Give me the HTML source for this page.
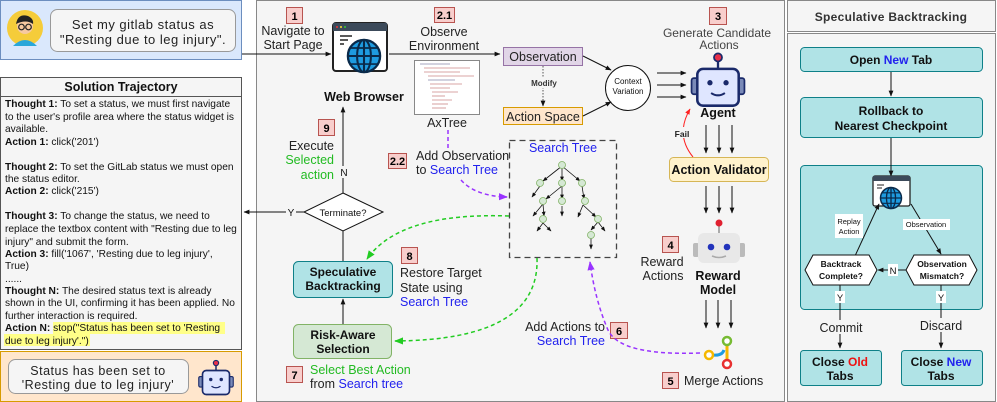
<!DOCTYPE html>
<html><head><meta charset="utf-8"><style>
body{margin:0;background:#fff}
svg{display:block;font-family:"Liberation Sans",sans-serif}
.t{font-size:10.2px;fill:#111}
.l{font-size:12.5px;fill:#222}
.b{font-weight:bold}
.bl{fill:#2222ee}
.gr{fill:#22bb22}
</style></head><body>
<svg width="997" height="402" viewBox="0 0 997 402" xmlns="http://www.w3.org/2000/svg">
<defs>
<marker id="a" viewBox="0 0 10 10" refX="9" refY="5" markerWidth="6" markerHeight="6" orient="auto"><path d="M0,1 L10,5 L0,9 z" fill="#111"/></marker>
<marker id="ap" viewBox="0 0 10 10" refX="9" refY="5" markerWidth="6" markerHeight="6" orient="auto"><path d="M0,1 L10,5 L0,9 z" fill="#9933ff"/></marker>
<marker id="ag" viewBox="0 0 10 10" refX="9" refY="5" markerWidth="6" markerHeight="6" orient="auto"><path d="M0,1 L10,5 L0,9 z" fill="#22cc22"/></marker>
<marker id="ar" viewBox="0 0 10 10" refX="9" refY="5" markerWidth="6" markerHeight="6" orient="auto"><path d="M0,1 L10,5 L0,9 z" fill="#ff2222"/></marker>
<g id="globe">
<circle cx="0" cy="0" r="14" fill="#1e9be0" stroke="#0a2a4a" stroke-width="2"/>
<ellipse cx="0" cy="0" rx="6" ry="14" fill="none" stroke="#0a2a4a" stroke-width="1.8"/>
<line x1="0" y1="-14" x2="0" y2="14" stroke="#0a2a4a" stroke-width="1.8"/>
<line x1="-14" y1="0" x2="14" y2="0" stroke="#0a2a4a" stroke-width="1.8"/>
<line x1="-12" y1="-7" x2="12" y2="-7" stroke="#0a2a4a" stroke-width="1.5"/>
<line x1="-12" y1="7" x2="12" y2="7" stroke="#0a2a4a" stroke-width="1.5"/>
</g>
<g id="robot">
<line x1="0" y1="-22" x2="0" y2="-14" stroke="#1a2a6a" stroke-width="2"/>
<circle cx="0" cy="-24" r="3.5" fill="#e8304a" stroke="#1a2a6a" stroke-width="1.5"/>
<rect x="-23" y="-6" width="6" height="14" rx="2" fill="#7a8ab8" stroke="#1a2a6a" stroke-width="1.5"/>
<rect x="17" y="-6" width="6" height="14" rx="2" fill="#7a8ab8" stroke="#1a2a6a" stroke-width="1.5"/>
<rect x="-18" y="-14" width="36" height="32" rx="5" fill="#dfe6ff" stroke="#1a2a6a" stroke-width="2.2"/>
<circle cx="-7" cy="-2" r="2.3" fill="#1a2a6a"/><circle cx="7" cy="-2" r="2.3" fill="#1a2a6a"/>
<path d="M-6,7 Q0,11 6,7" fill="none" stroke="#1a2a6a" stroke-width="1.8"/>
</g>
</defs>

<rect x="0.5" y="0.5" width="241" height="59" fill="#dae8fc" stroke="#6c8ebf"/>
<circle cx="25" cy="28" r="18" fill="#f5cc3a"/>
<path d="M13,46 Q25,34 37,46 Z" fill="#2aa7d9"/>
<circle cx="25" cy="26" r="8" fill="#f7c9a0"/>
<path d="M16,24 Q18,13 28,16 Q34,19 33,24 Q26,19 16,24 Z" fill="#222"/>
<circle cx="21.5" cy="27" r="2.8" fill="none" stroke="#222" stroke-width="1.2"/><circle cx="28.5" cy="27" r="2.8" fill="none" stroke="#222" stroke-width="1.2"/>
<rect x="50.5" y="9.5" width="185" height="42" rx="7" fill="#f5f5f5" stroke="#999"/>
<text x="143" y="29" text-anchor="middle" style="font-size:13px;letter-spacing:0.5px" fill="#222">Set my gitlab status as</text>
<text x="143" y="44" text-anchor="middle" style="font-size:13px;letter-spacing:0.5px" fill="#222">"Resting due to leg injury".</text>

<rect x="0.5" y="77.5" width="241" height="272" fill="#f5f5f5" stroke="#555"/>
<line x1="0" y1="96.5" x2="242" y2="96.5" stroke="#555"/>
<text x="121" y="91" text-anchor="middle" class="b" style="font-size:12.5px" fill="#111">Solution Trajectory</text>
<g class="t">
<text x="5" y="107"><tspan class="b">Thought 1:</tspan> To set a status, we must first navigate</text>
<text x="5" y="120">to the user's profile area where the status widget is</text>
<text x="5" y="132">available.</text>
<text x="5" y="145"><tspan class="b">Action 1:</tspan> click('201')</text>
<text x="5" y="170"><tspan class="b">Thought 2:</tspan> To set the GitLab status we must open</text>
<text x="5" y="182">the status editor.</text>
<text x="5" y="194"><tspan class="b">Action 2:</tspan> click('215')</text>
<text x="5" y="219"><tspan class="b">Thought 3:</tspan> To change the status, we need to</text>
<text x="5" y="232">replace the textbox content with "Resting due to leg</text>
<text x="5" y="245">injury" and submit the form.</text>
<text x="5" y="257"><tspan class="b">Action 3:</tspan> fill('1067', 'Resting due to leg injury',</text>
<text x="5" y="269">True)</text>
<text x="5" y="282">......</text>
<text x="5" y="294"><tspan class="b">Thought N:</tspan> The desired status text is already</text>
<text x="5" y="306">shown in the UI, confirming it has been applied. No</text>
<text x="5" y="319">further interaction is required.</text>
<rect x="53" y="322" width="172" height="12" fill="#ffff88"/>
<rect x="4" y="334" width="86" height="12" fill="#ffff88"/>
<text x="5" y="331"><tspan class="b">Action N:</tspan> stop("Status has been set to 'Resting</text>
<text x="5" y="344">due to leg injury'.")</text>
</g>

<rect x="0.5" y="351.5" width="241" height="50" fill="#ffe6cc" stroke="#d79b00"/>
<rect x="8.5" y="359.5" width="180" height="34" rx="7" fill="#f5f5f5" stroke="#999"/>
<text x="98" y="375" text-anchor="middle" style="font-size:12.5px;letter-spacing:0.5px" fill="#222">Status has been set to</text>
<text x="98" y="389" text-anchor="middle" style="font-size:12.5px;letter-spacing:0.5px" fill="#222">'Resting due to leg injury'</text>
<use href="#robot" transform="translate(216,381) scale(0.75)"/>

<rect x="256.5" y="0.5" width="528" height="401" fill="#f5f5f5" stroke="#888"/>
<rect x="787.5" y="0.5" width="208" height="31" fill="#f5f5f5" stroke="#888"/>
<text x="891" y="21" text-anchor="middle" class="b" style="font-size:12px;letter-spacing:0.3px" fill="#333">Speculative Backtracking</text>
<rect x="787.5" y="33.5" width="208" height="368" fill="#f5f5f5" stroke="#888"/>

<line x1="242" y1="54" x2="331" y2="54" stroke="#111" marker-end="url(#a)"/>
<g style="font-size:11px" class="b">
<rect x="286.5" y="7.5" width="16" height="16" fill="#f8cecc" stroke="#b85450"/><text x="294.5" y="20" text-anchor="middle">1</text>
<rect x="434.5" y="7.5" width="20" height="15" fill="#f8cecc" stroke="#b85450"/><text x="444.5" y="19" text-anchor="middle">2.1</text>
<rect x="709.5" y="7.5" width="17" height="17" fill="#f8cecc" stroke="#b85450"/><text x="718" y="20" text-anchor="middle">3</text>
<rect x="388.5" y="153.5" width="18" height="15" fill="#f8cecc" stroke="#b85450"/><text x="397.5" y="165" text-anchor="middle">2.2</text>
<rect x="318.5" y="119.5" width="16" height="16" fill="#f8cecc" stroke="#b85450"/><text x="326.5" y="132" text-anchor="middle">9</text>
<rect x="401.5" y="247.5" width="16" height="16" fill="#f8cecc" stroke="#b85450"/><text x="409.5" y="260" text-anchor="middle">8</text>
<rect x="286.5" y="366.5" width="16" height="16" fill="#f8cecc" stroke="#b85450"/><text x="294.5" y="379" text-anchor="middle">7</text>
<rect x="662.5" y="236.5" width="16" height="16" fill="#f8cecc" stroke="#b85450"/><text x="670.5" y="249" text-anchor="middle">4</text>
<rect x="662.5" y="372.5" width="16" height="16" fill="#f8cecc" stroke="#b85450"/><text x="670.5" y="385" text-anchor="middle">5</text>
<rect x="610.5" y="322.5" width="17" height="16" fill="#f8cecc" stroke="#b85450"/><text x="619" y="335" text-anchor="middle">6</text>
</g>
<text x="293" y="35" text-anchor="middle" class="l">Navigate to</text>
<text x="293" y="49" text-anchor="middle" class="l">Start Page</text>

<rect x="333" y="23" width="54" height="48" rx="3" fill="#fff" stroke="#222" stroke-width="2"/>
<rect x="333" y="23" width="54" height="8" fill="#3c4a5a"/>
<circle cx="337" cy="27" r="1" fill="#e33"/><circle cx="341" cy="27" r="1" fill="#fd3"/><circle cx="345" cy="27" r="1" fill="#3c3"/>
<line x1="340" y1="36" x2="352" y2="36" stroke="#222" stroke-width="1.5"/><line x1="340" y1="40" x2="348" y2="40" stroke="#222" stroke-width="1.5"/><line x1="340" y1="44" x2="344" y2="44" stroke="#222" stroke-width="1.5"/>
<use href="#globe" transform="translate(364,56) scale(1.15)"/>
<text x="364" y="101" text-anchor="middle" class="b" style="font-size:12.5px" fill="#111">Web Browser</text>

<line x1="389" y1="54" x2="500" y2="54" stroke="#111" marker-end="url(#a)"/>
<text x="444" y="36" text-anchor="middle" class="l">Observe</text>
<text x="444" y="50" text-anchor="middle" class="l">Environment</text>
<rect x="414.5" y="60.5" width="65" height="54" fill="#fff" stroke="#888"/>
<g stroke="#c88" stroke-width="0.8">
<line x1="420" y1="64" x2="450" y2="64" stroke="#88a"/><line x1="424" y1="68" x2="470" y2="68"/><line x1="424" y1="72" x2="460" y2="72"/><line x1="428" y1="76" x2="474" y2="76"/><line x1="428" y1="80" x2="455" y2="80" stroke="#88a"/><line x1="430" y1="84" x2="462" y2="84"/><line x1="430" y1="88" x2="450" y2="88"/><line x1="432" y1="92" x2="458" y2="92"/><line x1="432" y1="96" x2="445" y2="96"/><line x1="432" y1="100" x2="452" y2="100"/><line x1="432" y1="104" x2="448" y2="104"/><line x1="432" y1="108" x2="446" y2="108"/>
</g>
<text x="447" y="127" text-anchor="middle" class="l">AxTree</text>

<path d="M448,130 L448,148" stroke="#9933ff" stroke-width="1.5" stroke-dasharray="4,3" fill="none"/>
<path d="M461,180 Q475,196 507,197" stroke="#9933ff" stroke-width="1.5" stroke-dasharray="4,3" fill="none" marker-end="url(#ap)"/>
<text x="416" y="160" class="l">Add Observation</text>
<text x="416" y="174" class="l">to <tspan class="bl">Search Tree</tspan></text>

<rect x="503.5" y="47.5" width="79" height="18" fill="#e1d5e7" stroke="#9673a6"/>
<text x="543" y="61" text-anchor="middle" class="l">Observation</text>
<rect x="503.5" y="107.5" width="79" height="17" fill="#ffe6cc" stroke="#d79b00"/>
<text x="543" y="121" text-anchor="middle" class="l">Action Space</text>
<line x1="543" y1="66" x2="543" y2="106" stroke="#555" stroke-dasharray="1.5,1.5" marker-end="url(#a)"/>
<rect x="530" y="77" width="28" height="11" fill="#f5f5f5"/>
<text x="544" y="86" text-anchor="middle" class="b" style="font-size:8px" fill="#333">Modify</text>
<circle cx="628" cy="88" r="22.5" fill="#fff" stroke="#111"/>
<text x="628" y="84" text-anchor="middle" style="font-size:8px" fill="#111">Context</text>
<text x="628" y="94" text-anchor="middle" style="font-size:8px" fill="#111">Variation</text>
<line x1="583" y1="56" x2="611" y2="70" stroke="#111" marker-end="url(#a)"/>
<line x1="583" y1="116" x2="611" y2="102" stroke="#111" marker-end="url(#a)"/>
<line x1="657" y1="73" x2="686" y2="73" stroke="#111" marker-end="url(#a)"/>
<line x1="657" y1="85" x2="686" y2="85" stroke="#111" marker-end="url(#a)"/>
<line x1="657" y1="97" x2="686" y2="97" stroke="#111" marker-end="url(#a)"/>

<text x="717" y="37" text-anchor="middle" style="font-size:12px;fill:#444">Generate Candidate</text>
<text x="719" y="49" text-anchor="middle" style="font-size:12px;fill:#444">Actions</text>
<use href="#robot" transform="translate(718,85) scale(1.15)"/>
<text x="718" y="117" text-anchor="middle" class="b" style="font-size:12.5px" fill="#111">Agent</text>

<path d="M693,157 Q675,135 690,109" stroke="#ff2222" fill="none" marker-end="url(#ar)"/>
<rect x="674" y="127" width="16" height="11" fill="#f5f5f5"/>
<text x="682" y="137" text-anchor="middle" class="b" style="font-size:8.5px" fill="#222">Fail</text>
<line x1="706" y1="125" x2="706" y2="153" stroke="#111" marker-end="url(#a)"/>
<line x1="719" y1="125" x2="719" y2="153" stroke="#111" marker-end="url(#a)"/>
<line x1="732" y1="125" x2="732" y2="153" stroke="#111" marker-end="url(#a)"/>
<rect x="669.5" y="157.5" width="99" height="24" rx="4" fill="#fff2cc" stroke="#d6b656"/>
<text x="719" y="174" text-anchor="middle" class="b" style="font-size:12.5px" fill="#111">Action Validator</text>
<line x1="706" y1="186" x2="706" y2="213" stroke="#111" marker-end="url(#a)"/>
<line x1="719" y1="186" x2="719" y2="213" stroke="#111" marker-end="url(#a)"/>
<line x1="732" y1="186" x2="732" y2="213" stroke="#111" marker-end="url(#a)"/>

<line x1="719" y1="226" x2="719" y2="234" stroke="#aaa" stroke-width="2"/>
<circle cx="719" cy="223" r="3.5" fill="#e02030"/>
<rect x="693" y="243" width="6" height="14" rx="2" fill="#bbb"/>
<rect x="739" y="243" width="6" height="14" rx="2" fill="#bbb"/>
<rect x="698" y="233" width="42" height="30" rx="6" fill="#e8e8e8"/>
<circle cx="711" cy="247" r="3.3" fill="#2233bb"/><circle cx="727" cy="247" r="3.3" fill="#2233bb"/>
<path d="M712,256 Q719,259 726,256" fill="none" stroke="#aaa" stroke-width="1.5"/>
<text x="718" y="280" text-anchor="middle" class="b" style="font-size:12.5px" fill="#111">Reward</text>
<text x="718" y="294" text-anchor="middle" class="b" style="font-size:12.5px" fill="#111">Model</text>
<text x="662" y="266" text-anchor="middle" class="l">Reward</text>
<text x="663" y="280" text-anchor="middle" class="l">Actions</text>
<line x1="706" y1="300" x2="706" y2="328" stroke="#111" marker-end="url(#a)"/>
<line x1="718" y1="300" x2="718" y2="328" stroke="#111" marker-end="url(#a)"/>
<line x1="731" y1="300" x2="731" y2="328" stroke="#111" marker-end="url(#a)"/>
<path d="M713,355 Q722,356 724,350" stroke="#1e9be0" stroke-width="3" fill="none"/>
<line x1="727" y1="345" x2="727" y2="360" stroke="#f5b800" stroke-width="3"/>
<circle cx="727" cy="341" r="4" fill="#fff" stroke="#77bb33" stroke-width="2.5"/>
<circle cx="709" cy="355" r="4" fill="#fff" stroke="#f5b800" stroke-width="2.5"/>
<circle cx="727" cy="364" r="4" fill="#fff" stroke="#e83030" stroke-width="2.5"/>
<text x="684" y="385" class="l">Merge Actions</text>

<text x="605" y="331" text-anchor="end" class="l">Add Actions to</text>
<text x="605" y="345" text-anchor="end" class="l bl">Search Tree</text>
<path d="M700,353 Q620,356 608,330 Q595,300 590,262" stroke="#9933ff" stroke-width="1.5" stroke-dasharray="4,3" fill="none" marker-end="url(#ap)"/>

<rect x="509.5" y="140.5" width="107" height="117" fill="none" stroke="#444" stroke-width="1.3" stroke-dasharray="6,4"/>
<text x="563" y="152" text-anchor="middle" class="l bl">Search Tree</text>
<g stroke="#111" stroke-width="0.8" marker-end="url(#a)">
<line x1="562" y1="166" x2="543" y2="181"/><line x1="562" y1="166" x2="562" y2="181"/><line x1="562" y1="166" x2="580" y2="181"/>
<line x1="540" y1="186" x2="532" y2="197"/>
<line x1="562" y1="186" x2="546" y2="199"/><line x1="562" y1="186" x2="562" y2="199"/>
<line x1="582" y1="186" x2="584" y2="199"/>
<line x1="543" y1="204" x2="533" y2="216"/><line x1="543" y1="204" x2="544" y2="216"/>
<line x1="562" y1="206" x2="562" y2="216"/>
<line x1="583" y1="205" x2="578" y2="217"/><line x1="583" y1="205" x2="596" y2="217"/>
<line x1="543" y1="223" x2="537" y2="231"/><line x1="543" y1="223" x2="551" y2="231"/>
<line x1="598" y1="222" x2="605" y2="231"/><line x1="598" y1="222" x2="591" y2="230"/>
<line x1="591" y1="238" x2="591" y2="249"/>
</g>
<g fill="#d5e8d4" stroke="#82b366" stroke-width="0.8">
<circle cx="562" cy="165" r="3.5"/><circle cx="540" cy="183" r="3.5"/><circle cx="562" cy="183" r="3.5"/><circle cx="582" cy="183" r="3.5"/>
<circle cx="543" cy="201" r="3.5"/><circle cx="562" cy="201" r="3.5"/><circle cx="585" cy="201" r="3.5"/>
<circle cx="543" cy="219" r="3.5"/><circle cx="598" cy="219" r="3.5"/><circle cx="591" cy="235" r="3.5"/>
</g>

<path d="M509,216 Q400,212 367,259" stroke="#22cc22" stroke-width="1.5" stroke-dasharray="4,3" fill="none" marker-end="url(#ag)"/>
<path d="M537,258 Q540,340 395,341" stroke="#22cc22" stroke-width="1.5" stroke-dasharray="4,3" fill="none" marker-end="url(#ag)"/>

<line x1="343" y1="193" x2="343" y2="107" stroke="#111" marker-end="url(#a)"/>
<rect x="339" y="166" width="10" height="12" fill="#f5f5f5"/>
<text x="344" y="176" text-anchor="middle" style="font-size:10px" fill="#111">N</text>
<text x="334" y="150" text-anchor="end" class="l">Execute</text>
<text x="334" y="164" text-anchor="end" class="l gr">Selected</text>
<text x="334" y="179" text-anchor="end" class="l gr">action</text>
<polygon points="343,193 383,212 343,231 304,212" fill="#fff" stroke="#111"/>
<text x="343" y="216" text-anchor="middle" style="font-size:9.5px" fill="#111">Terminate?</text>
<line x1="304" y1="212" x2="244" y2="212" stroke="#111" marker-end="url(#a)"/>
<rect x="286" y="206" width="10" height="12" fill="#f5f5f5"/>
<text x="291" y="216" text-anchor="middle" style="font-size:10px" fill="#111">Y</text>
<line x1="343" y1="231" x2="343" y2="261" stroke="#111"/>
<rect x="293.5" y="261.5" width="99" height="36" rx="5" fill="#b0e3e6" stroke="#0e8088"/>
<text x="343" y="276" text-anchor="middle" class="b" style="font-size:12px" fill="#111">Speculative</text>
<text x="343" y="290" text-anchor="middle" class="b" style="font-size:12px" fill="#111">Backtracking</text>
<line x1="343" y1="324" x2="343" y2="299" stroke="#111" marker-end="url(#a)"/>
<rect x="293.5" y="324.5" width="98" height="34" rx="5" fill="#d5e8d4" stroke="#82b366"/>
<text x="343" y="339" text-anchor="middle" class="b" style="font-size:12px" fill="#111">Risk-Aware</text>
<text x="343" y="353" text-anchor="middle" class="b" style="font-size:12px" fill="#111">Selection</text>
<text x="400" y="277" class="l">Restore Target</text>
<text x="400" y="292" class="l">State using</text>
<text x="400" y="306" class="l bl">Search Tree</text>
<text x="310" y="374" class="l gr">Select Best Action</text>
<text x="310" y="388" class="l">from <tspan class="bl">Search tree</tspan></text>

<rect x="800.5" y="47.5" width="182" height="24" rx="4" fill="#b0e3e6" stroke="#0e8088"/>
<text x="891" y="64" text-anchor="middle" class="b" style="font-size:12px" fill="#111">Open <tspan fill="#2222ee">New</tspan> Tab</text>
<line x1="891" y1="72" x2="891" y2="96" stroke="#111" marker-end="url(#a)"/>
<rect x="800.5" y="97.5" width="182" height="40" rx="4" fill="#b0e3e6" stroke="#0e8088"/>
<text x="891" y="115" text-anchor="middle" class="b" style="font-size:12px" fill="#111">Rollback to</text>
<text x="891" y="130" text-anchor="middle" class="b" style="font-size:12px" fill="#111">Nearest Checkpoint</text>
<rect x="800.5" y="165.5" width="182" height="144" rx="4" fill="#b0e3e6" stroke="#0e8088"/>
<line x1="891" y1="138" x2="891" y2="176" stroke="#111" marker-end="url(#a)"/>
<rect x="873" y="176" width="37" height="30" rx="2" fill="#fff" stroke="#222" stroke-width="1.3"/>
<rect x="873" y="176" width="37" height="5" fill="#3c4a5a"/>
<line x1="877" y1="185" x2="884" y2="185" stroke="#222"/><line x1="877" y1="188" x2="882" y2="188" stroke="#222"/>
<use href="#globe" transform="translate(891,198) scale(0.75)"/>
<line x1="855" y1="256" x2="879" y2="204" stroke="#111" marker-end="url(#a)"/>
<line x1="911" y1="204" x2="941" y2="254" stroke="#111" marker-end="url(#a)"/>
<rect x="835" y="214" width="28" height="24" fill="#fff"/>
<text x="849" y="224" text-anchor="middle" style="font-size:7.5px" fill="#111">Replay</text>
<text x="849" y="234" text-anchor="middle" style="font-size:7.5px" fill="#111">Action</text>
<rect x="903" y="219" width="47" height="11" fill="#fff"/>
<text x="926" y="227" text-anchor="middle" style="font-size:7.5px" fill="#111">Observation</text>
<polygon points="813,255 869,255 877,270 869,285 813,285 805,270" fill="#fff" stroke="#111"/>
<text x="841" y="267" text-anchor="middle" class="b" style="font-size:8.5px" fill="#111">Backtrack</text>
<text x="841" y="279" text-anchor="middle" class="b" style="font-size:8.5px" fill="#111">Complete?</text>
<polygon points="914,255 969,255 977,270 969,285 914,285 906,270" fill="#fff" stroke="#111"/>
<text x="942" y="267" text-anchor="middle" class="b" style="font-size:8.5px" fill="#111">Observation</text>
<text x="942" y="279" text-anchor="middle" class="b" style="font-size:8.5px" fill="#111">Mismatch?</text>
<line x1="906" y1="270" x2="878" y2="270" stroke="#111" marker-end="url(#a)"/>
<rect x="888" y="264" width="10" height="12" fill="#fff"/>
<text x="893" y="274" text-anchor="middle" style="font-size:9.5px" fill="#111">N</text>
<line x1="840" y1="285" x2="840" y2="348" stroke="#111" marker-end="url(#a)"/>
<line x1="941" y1="285" x2="941" y2="348" stroke="#111" marker-end="url(#a)"/>
<rect x="835" y="291" width="10" height="12" fill="#fff"/><text x="840" y="301" text-anchor="middle" style="font-size:9.5px" fill="#111">Y</text>
<rect x="936" y="291" width="10" height="12" fill="#fff"/><text x="941" y="301" text-anchor="middle" style="font-size:9.5px" fill="#111">Y</text>
<rect x="820" y="320" width="42" height="14" fill="#f5f5f5"/>
<text x="841" y="332" text-anchor="middle" class="l">Commit</text>
<rect x="920" y="318" width="42" height="14" fill="#f5f5f5"/>
<text x="941" y="330" text-anchor="middle" class="l">Discard</text>
<rect x="800.5" y="350.5" width="81" height="35" rx="3" fill="#b0e3e6" stroke="#0e8088"/>
<text x="840" y="366" text-anchor="middle" class="b" style="font-size:12px" fill="#111">Close <tspan fill="#ee1111">Old</tspan></text>
<text x="840" y="380" text-anchor="middle" class="b" style="font-size:12px" fill="#111">Tabs</text>
<rect x="901.5" y="350.5" width="81" height="35" rx="3" fill="#b0e3e6" stroke="#0e8088"/>
<text x="941" y="366" text-anchor="middle" class="b" style="font-size:12px" fill="#111">Close <tspan fill="#2222ee">New</tspan></text>
<text x="941" y="380" text-anchor="middle" class="b" style="font-size:12px" fill="#111">Tabs</text>
</svg>
</body></html>
